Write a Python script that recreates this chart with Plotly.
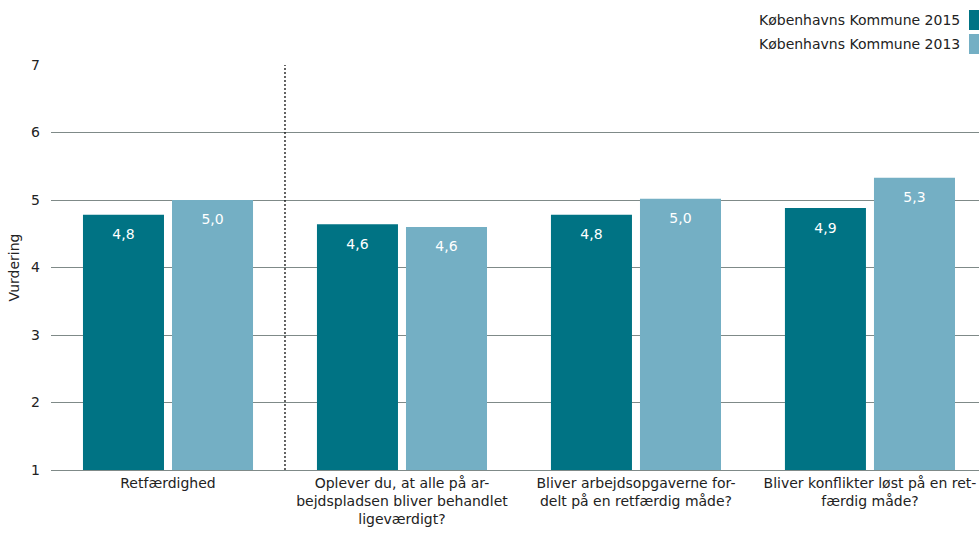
import plotly.graph_objects as go

categories = [
    "Retfærdighed",
    "Oplever du, at alle på ar-<br>bejdspladsen bliver behandlet<br>ligeværdigt?",
    "Bliver arbejdsopgaverne for-<br>delt på en retfærdig måde?",
    "Bliver konflikter løst på en ret-<br>færdig måde?",
]
series_names = ["Københavns Kommune 2015", "Københavns Kommune 2013"]
values_2015 = [4.78, 4.64, 4.78, 4.88]
values_2013 = [5.0, 4.60, 5.02, 5.33]
y_ticks = [1, 2, 3, 4, 5, 6, 7]

colors = ["#007384", "#74AFC4"]
FONT = "DejaVu Sans"
LABEL_DROP = 0.31  # label sits a little below the bar top

fig = go.Figure()
xs = list(range(len(categories)))
for i, (name, vals, col) in enumerate(zip(series_names, [values_2015, values_2013], colors)):
    fig.add_trace(go.Bar(
        x=xs,
        y=[v - 1 for v in vals],
        base=1,
        name=name,
        offsetgroup=str(i),
        marker=dict(color=col, line=dict(width=0)),
        hoverinfo="skip",
    ))
for i, (name, vals) in enumerate(zip(series_names, [values_2015, values_2013])):
    fig.add_trace(go.Scatter(
        x=xs,
        y=[v - LABEL_DROP for v in vals],
        mode="text",
        offsetgroup=str(i),
        text=[f"{v:.1f}".replace(".", ",") for v in vals],
        textposition="middle center",
        textfont=dict(color="white", size=14, family=FONT),
        showlegend=False,
        hoverinfo="skip",
        cliponaxis=False,
    ))

fig.update_layout(
    width=979, height=534,
    margin=dict(l=51, r=0, t=65, b=64),
    paper_bgcolor="white", plot_bgcolor="white",
    barmode="group", bargap=0.239, bargroupgap=0.09,
    scattermode="group", scattergap=0.239,
    showlegend=False,
    font=dict(family=FONT, size=13, color="#222"),
    xaxis=dict(
        tickmode="array", tickvals=xs, ticktext=categories,
        range=[-0.5, 3.466], showgrid=False, zeroline=False,
        showline=True, linecolor="#7f8a88", linewidth=1, ticks="",
        tickfont=dict(size=14, family=FONT, color="#222"),
    ),
    yaxis=dict(
        range=[1, 7], tickvals=y_ticks, showgrid=True, gridcolor="#7f8a88", gridwidth=1,
        zeroline=False, showline=False, ticks="", ticklabelstandoff=10,
        tickfont=dict(size=14, family=FONT, color="#222"),
        title=dict(text="Vurdering", font=dict(size=14, family=FONT, color="#222"), standoff=8),
    ),
)

# separator line between first and other categories
fig.add_shape(type="line", xref="x", yref="y", x0=0.5, x1=0.5, y0=1, y1=7,
              line=dict(color="#111", width=1.3, dash="2px,2px"))

# custom legend at top right (text then swatch)
for i, (name, col) in enumerate(zip(series_names, colors)):
    yc = 20 + i * 24
    fig.add_shape(type="rect", xref="paper", yref="paper",
                  x0=(969 - 51) / 928, x1=(979 - 51) / 928,
                  y0=(534 - 64 - (yc + 10)) / 405, y1=(534 - 64 - (yc - 10)) / 405,
                  fillcolor=col, line=dict(width=0))
    fig.add_annotation(xref="paper", yref="paper",
                       x=(962 - 51) / 928, y=(534 - 64 - yc) / 405,
                       text=name, showarrow=False, xanchor="right", yanchor="middle",
                       font=dict(size=14, family=FONT, color="#222"))

fig.write_html("out.html", config={"displayModeBar": False},
               post_script="document.body.style.margin='0';document.body.style.overflow='hidden';")
